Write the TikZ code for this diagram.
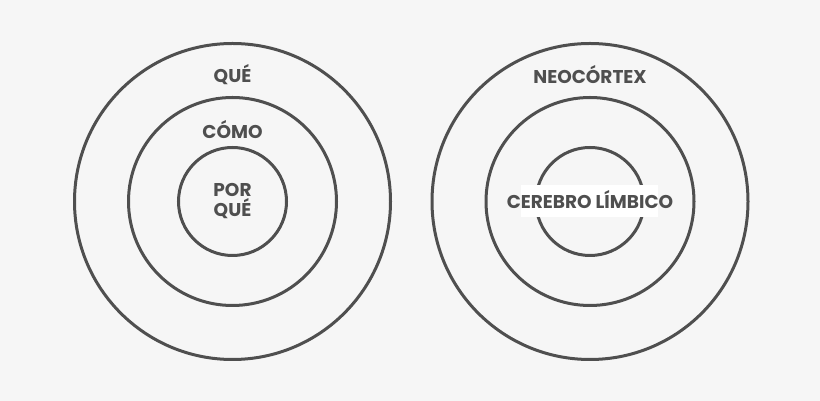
\documentclass[tikz,border=0pt]{standalone}
\usepackage{fontspec}
\setmainfont{Poppins}
\usetikzlibrary{calc}
\definecolor{fondo}{HTML}{F6F6F6}
\definecolor{trazo}{HTML}{4F4F4F}
\tikzset{
	anillo/.style={draw=trazo, line width=3pt},
	rotulo/.style={text=trazo, font=\bfseries\fontsize{18.5}{20}\selectfont, inner sep=0pt, align=center}
}
\begin{document}
\begin{tikzpicture}[x=1pt,y=1pt]
			
			%--- Fondo ---
			\fill[fondo] (0,0) rectangle (820,401);
			\useasboundingbox (0,0) rectangle (820,401);
			
			%--- Centros ---
			\coordinate (izq) at (232.5,199.5);
			\coordinate (der) at (590,199.5);
			
			%--- Circulos concentricos ---
			\foreach \r in {158,104,54} {
				\draw[anillo] (izq) circle (\r);
				\draw[anillo] (der) circle (\r);
			}
			
			%--- Izquierda ---
			\node[rotulo] (que) at ($(izq)+(0,127)$) {QUÉ};
			\node[rotulo] (como) at ($(izq)+(0,72)$) {CÓMO};
			\node[rotulo] (porque) at ($(izq)+(0,0)$) {POR\\QUÉ};
			
			%--- Derecha ---
			\node[rotulo] (neo) at ($(der)+(0,127)$) {NEOCÓRTEX};
			\fill[white] ($(der)+(-69,-15.5)$) rectangle ($(der)+(68,16.5)$); % caja blanca, mas corta que el texto
			\node[rotulo] (limbico) at ($(der)+(0,2)$) {CEREBRO LÍMBICO};
			
		\end{tikzpicture}
\end{document}
